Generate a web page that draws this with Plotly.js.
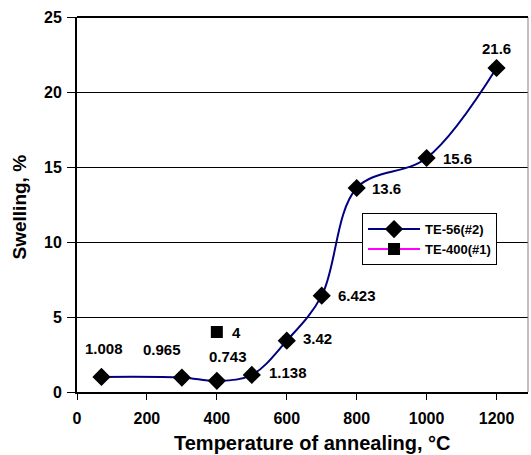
<!DOCTYPE html>
<html>
<head>
<meta charset="utf-8">
<script src="https://cdn.plot.ly/plotly-3.0.1.min.js"></script>
<style>html,body{margin:0;padding:0;background:#fff;}#chart{width:531px;height:455px;}</style>
</head>
<body>
<div id="chart"></div>
<script>
// Data
const te56Temp = [70, 300, 400, 500, 600, 700, 800, 1000, 1200];
const te56Swelling = [1.008, 0.965, 0.743, 1.138, 3.42, 6.423, 13.6, 15.6, 21.6];
const te56Labels = ["1.008", "0.965", "0.743", "1.138", "3.42", "6.423", "13.6", "15.6", "21.6"];
const te400Temp = [400];
const te400Swelling = [4];
const te400Labels = ["4"];
const xTicks = [0, 200, 400, 600, 800, 1000, 1200];
const yTicks = [0, 5, 10, 15, 20, 25];

// label offsets (pixels) - styling only
const te56Shift = [[3,-28],[-20,-28],[11,-24],[36,-2],[31,-2],[35,0],[30,0],[31,0],[0,-20]];
const te400Shift = [[20,0]];

const FONT = 'Liberation Sans, Arial, sans-serif';
const annFont = {family: FONT, size: 15, color: '#000'};

const annotations = [];
te56Temp.forEach((x, i) => {
  annotations.push({x: x, y: te56Swelling[i], xref: 'x', yref: 'y', text: '<b>' + te56Labels[i] + '</b>',
    showarrow: false, xshift: te56Shift[i][0], yshift: -te56Shift[i][1], font: annFont});
});
te400Temp.forEach((x, i) => {
  annotations.push({x: x, y: te400Swelling[i], xref: 'x', yref: 'y', text: '<b>' + te400Labels[i] + '</b>',
    showarrow: false, xshift: te400Shift[i][0], yshift: -te400Shift[i][1], font: annFont});
});
annotations.push({xref: 'paper', yref: 'paper', x: 0.523, y: -0.135, xanchor: 'center', yanchor: 'middle',
  text: '<b>Temperature of annealing, °C</b>', showarrow: false, font: {family: FONT, size: 20, color: '#000'}});
annotations.push({xref: 'paper', yref: 'paper', x: -0.127, y: 0.494, xanchor: 'center', yanchor: 'middle', textangle: -90,
  text: '<b>Swelling, %</b>', showarrow: false, font: {family: FONT, size: 19, color: '#000'}});

const traces = [
  {x: te56Temp, y: te56Swelling, name: '<b>TE-56(#2)</b>', type: 'scatter', mode: 'lines+markers',
   line: {color: '#000080', width: 2, shape: 'spline', smoothing: 1},
   marker: {symbol: 'diamond', size: 14, color: '#000'}},
  {x: te400Temp, y: te400Swelling, name: '<b>TE-400(#1)</b>', type: 'scatter', mode: 'lines+markers',
   line: {color: '#ff00ff', width: 2},
   marker: {symbol: 'square', size: 12, color: '#000'}}
];

const layout = {
  width: 531, height: 455,
  margin: {l: 77, r: 3, t: 17, b: 63},
  paper_bgcolor: '#fff', plot_bgcolor: '#fff',
  font: {family: FONT, color: '#000'},
  showlegend: true,
  legend: {x: 0.632, y: 0.477, xanchor: 'left', yanchor: 'top', bgcolor: '#fff', bordercolor: '#000', borderwidth: 1,
    font: {family: FONT, size: 13, color: '#000'}, itemwidth: 52, tracegroupgap: 0},
  xaxis: {range: [0, 1290], tickvals: xTicks, ticktext: xTicks.map(v => '<b>' + v + '</b>'), ticks: 'outside', ticklen: 6, tickwidth: 1, tickcolor: '#000',
    showline: true, linecolor: '#000', linewidth: 2, mirror: false, showgrid: false, zeroline: false, ticklabelstandoff: 5,
    tickfont: {family: FONT, size: 16, color: '#000'}},
  yaxis: {range: [0, 25], tickvals: yTicks, ticktext: yTicks.map(v => '<b>' + v + '</b>'), ticks: 'outside', ticklen: 8, tickwidth: 1, tickcolor: '#000',
    showline: true, linecolor: '#000', linewidth: 2, mirror: false, showgrid: true, gridcolor: '#000', gridwidth: 1, zeroline: false, ticklabelstandoff: 2,
    tickfont: {family: FONT, size: 16, color: '#000'}},
  shapes: [
    {type: 'line', xref: 'paper', yref: 'paper', x0: 1, x1: 1, y0: 0, y1: 1, line: {color: '#808080', width: 1}},
    {type: 'line', xref: 'paper', yref: 'paper', x0: 0, x1: 1, y0: 1, y1: 1, line: {color: '#000', width: 2}}
  ],
  annotations: annotations
};

Plotly.newPlot('chart', traces, layout, {displayModeBar: false, staticPlot: true});
</script>
</body>
</html>
